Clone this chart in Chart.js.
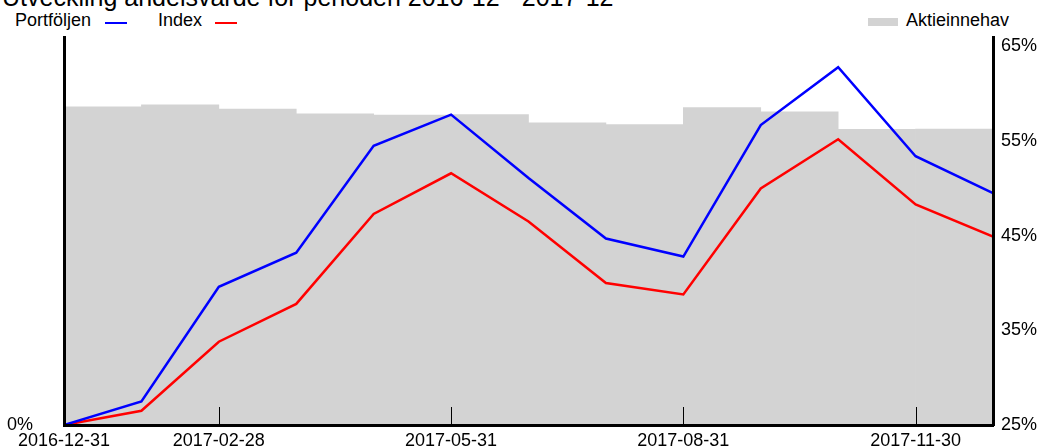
<!DOCTYPE html>
<html>
<head>
<meta charset="utf-8">
<script src="https://cdn.jsdelivr.net/npm/chart.js@4/dist/chart.umd.min.js"></script>
<style>
  html, body { margin: 0; padding: 0; background: #fff; overflow: hidden; }
  #wrap { position: relative; width: 1040px; height: 448px; overflow: hidden; font-family: "Liberation Sans", Arial, sans-serif; color: #000; }
  #title { position: absolute; left: 2px; top: -15px; font-size: 25px; line-height: 25px; white-space: nowrap; }
  .lg { position: absolute; font-size: 18px; line-height: 18px; white-space: nowrap; top: 11px; }
  .ln { position: absolute; height: 2px; top: 22px; }
  #c { position: absolute; left: 0; top: 0; }
</style>
</head>
<body>
<div id="wrap">
  <div id="title">Utveckling andelsvärde för perioden 2016-12 - 2017-12</div>
  <div class="lg" style="left:15px">Portföljen</div>
  <div class="ln" style="left:105px;width:22px;background:#0000ff"></div>
  <div class="lg" style="left:158px">Index</div>
  <div class="ln" style="left:215px;width:22px;background:#ff0000"></div>
  <div style="position:absolute;left:868px;top:18px;width:30px;height:8px;background:#d3d3d3"></div>
  <div class="lg" style="left:906px">Aktieinnehav</div>
  <canvas id="c" width="1040" height="448"></canvas>
</div>
<script>
// Month index 0..12 = 2016-12-31 .. 2017-12-31
const dates = ["2016-12-31","2017-01-31","2017-02-28","2017-03-31","2017-04-30","2017-05-31","2017-06-30","2017-07-31","2017-08-31","2017-09-30","2017-10-31","2017-11-30","2017-12-31"];
const tickIndexes = [0, 2, 5, 8, 11];
// Right axis (%)
const portfoljen = [25.0, 27.5, 39.6, 43.2, 54.5, 57.8, 51.1, 44.7, 42.8, 56.7, 62.8, 53.4, 49.5];
const indexSeries = [25.0, 26.5, 33.8, 37.8, 47.3, 51.6, 46.5, 40.0, 38.8, 50.0, 55.2, 48.3, 44.9];
// Left axis (%), one value per month interval
const aktieinnehav = [82.0, 82.5, 81.4, 80.2, 79.9, 80.0, 77.9, 77.4, 81.8, 80.7, 76.2, 76.3];
const rightTicks = [25, 35, 45, 55, 65];

const FONT = { family: "'Liberation Sans', Arial, sans-serif", size: 18 };

const innerTicks = {
  id: 'innerTicks',
  afterDatasetsDraw(chart) {
    const x = chart.scales.x, ctx = chart.ctx, bottom = chart.chartArea.bottom;
    ctx.save();
    ctx.strokeStyle = '#000';
    ctx.lineWidth = 1;
    tickIndexes.forEach(v => {
      if (v === 0) return;
      const px = Math.round(x.getPixelForValue(v)) + 0.5;
      ctx.beginPath();
      ctx.moveTo(px, bottom - 18);
      ctx.lineTo(px, bottom);
      ctx.stroke();
    });
    ctx.restore();
  }
};

function noPad(s) { s.paddingTop = 0; s.paddingBottom = 0; s.paddingLeft = 0; s.paddingRight = 0; }

new Chart(document.getElementById('c'), {
  type: 'line',
  data: {
    datasets: [
      {
        label: 'Portföljen', type: 'line', yAxisID: 'y1', order: 1,
        data: portfoljen.map((v, i) => ({ x: i, y: v })),
        borderColor: '#0000ff', borderWidth: 2.5, pointRadius: 0, tension: 0, fill: false
      },
      {
        label: 'Index', type: 'line', yAxisID: 'y1', order: 2,
        data: indexSeries.map((v, i) => ({ x: i, y: v })),
        borderColor: '#ff0000', borderWidth: 2.5, pointRadius: 0, tension: 0, fill: false
      },
      {
        label: 'Aktieinnehav', type: 'bar', yAxisID: 'y', order: 3,
        data: aktieinnehav.map((v, i) => ({ x: i + 0.5, y: v })),
        backgroundColor: '#d3d3d3', borderWidth: 0,
        barPercentage: 1.0, categoryPercentage: 1.0
      }
    ]
  },
  options: {
    responsive: false,
    animation: false,
    layout: { padding: { top: 37, left: 0, right: 0, bottom: 0 } },
    plugins: { legend: { display: false }, title: { display: false }, tooltip: { enabled: false } },
    scales: {
      x: {
        type: 'linear', min: 0, max: 12, offset: false,
        grid: { display: false, drawTicks: false },
        border: { display: true, color: '#000', width: 3, z: 1 },
        afterBuildTicks: s => { s.ticks = tickIndexes.map(v => ({ value: v })); },
        afterFit: s => { s.height = 23; noPad(s); },
        ticks: {
          color: '#000', font: FONT, padding: 5, maxRotation: 0, autoSkip: false,
          callback: v => dates[v]
        }
      },
      y: {
        type: 'linear', position: 'left', min: 0, max: 100,
        grid: { display: false, drawTicks: false },
        border: { display: true, color: '#000', width: 3, z: 1 },
        afterBuildTicks: s => { s.ticks = [{ value: 0 }]; },
        afterFit: s => { s.width = 64; noPad(s); },
        ticks: { color: '#000', font: FONT, padding: 31, callback: v => v + '%' }
      },
      y1: {
        type: 'linear', position: 'right', min: 25, max: 66,
        grid: { display: false, drawTicks: false },
        border: { display: true, color: '#000', width: 3, z: 1 },
        afterBuildTicks: s => { s.ticks = rightTicks.map(v => ({ value: v })); },
        afterFit: s => { s.width = 47; noPad(s); },
        ticks: { color: '#000', font: FONT, padding: 8, callback: v => v + '%' }
      }
    }
  },
  plugins: [innerTicks]
});
</script>
</body>
</html>
